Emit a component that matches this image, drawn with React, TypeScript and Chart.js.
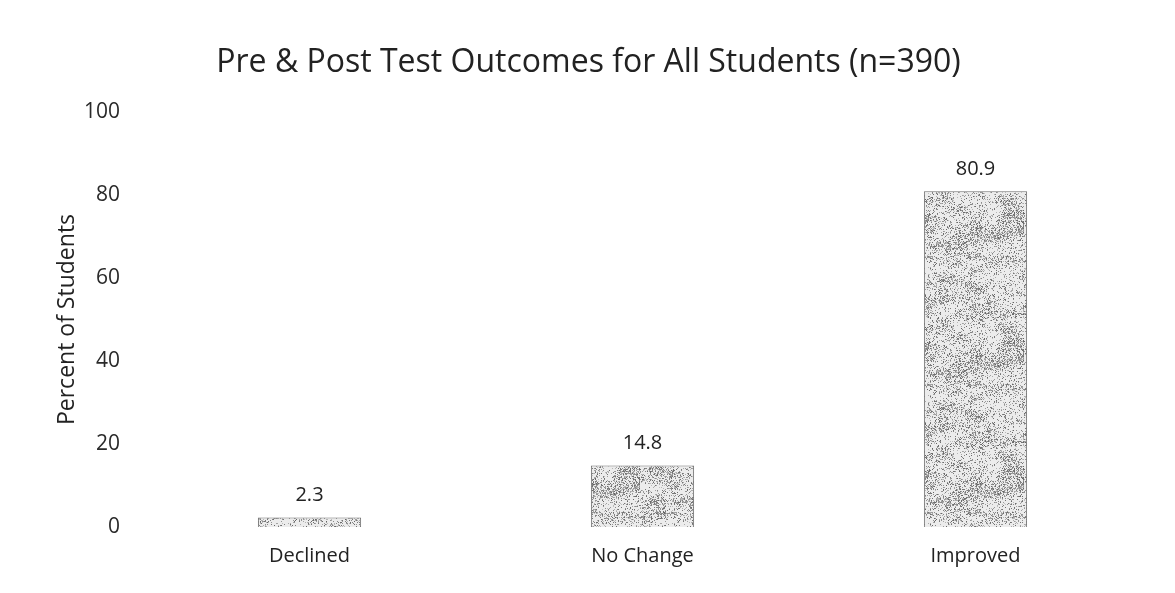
import React, { useEffect, useRef } from "react";
import { Chart, registerables } from "chart.js";

Chart.register(...registerables);

const categories = ["Declined", "No Change", "Improved"];
const percentValues = [2.3, 14.8, 80.9];
const yTicks = [0, 20, 40, 60, 80, 100];
const titleText = "Pre & Post Test Outcomes for All Students (n=390)";
const yAxisTitle = "Percent of Students";

const FONT = "'Open Sans', 'Noto Sans', sans-serif";

function hash(x: number, y: number): number {
  let h = (x * 374761393 + y * 668265263) | 0;
  h = Math.imul(h ^ (h >>> 13), 1274126177);
  h = h ^ (h >>> 16);
  return (h >>> 0) / 4294967295;
}

function smoothNoise(x: number, y: number, cell: number): number {
  const gx = Math.floor(x / cell);
  const gy = Math.floor(y / cell);
  const fx = x / cell - gx;
  const fy = y / cell - gy;
  const sx = fx * fx * (3 - 2 * fx);
  const sy = fy * fy * (3 - 2 * fy);
  const a = hash(gx + 1000, gy + 2000);
  const b = hash(gx + 1001, gy + 2000);
  const c = hash(gx + 1000, gy + 2001);
  const d = hash(gx + 1001, gy + 2001);
  return a + (b - a) * sx + (c - a) * sy + (a - b - c + d) * sx * sy;
}

function makeSpecklePattern(): CanvasPattern | string {
  const W = 128;
  const H = 128;
  const c = document.createElement("canvas");
  c.width = W;
  c.height = H;
  const ctx = c.getContext("2d");
  if (!ctx) return "#d0d0d0";
  ctx.fillStyle = "#ececec";
  ctx.fillRect(0, 0, W, H);
  for (let y = 0; y < H; y++) {
    for (let x = 0; x < W; x++) {
      const n = smoothNoise(x, y * 2.2, 16);
      const v = hash(x, y);
      if (v < 0.14 + n * n * 0.55) {
        const g = 100 + Math.floor(hash(y + 7, x + 13) * 95);
        ctx.fillStyle = `rgb(${g},${g},${g})`;
        ctx.fillRect(x, y, 1, 1);
      }
    }
  }
  const p = ctx.createPattern(c, "repeat");
  return p || "#d0d0d0";
}

const titlePlugin = {
  id: "centeredTitle",
  afterDraw(chart: any) {
    const { ctx } = chart;
    ctx.save();
    ctx.fillStyle = "#222222";
    ctx.font = `32px ${FONT}`;
    ctx.textAlign = "center";
    ctx.textBaseline = "middle";
    ctx.fillText(titleText, chart.width / 2 + 1, 63);
    ctx.restore();
  },
};

const valueLabelPlugin = {
  id: "valueLabels",
  afterDatasetsDraw(chart: any) {
    const { ctx } = chart;
    const meta = chart.getDatasetMeta(0);
    ctx.save();
    ctx.fillStyle = "#222222";
    ctx.font = `20px ${FONT}`;
    ctx.textAlign = "center";
    ctx.textBaseline = "bottom";
    meta.data.forEach((bar: any, i: number) => {
      const v = chart.data.datasets[0].data[i];
      ctx.fillText(Number(v).toFixed(1), bar.x, bar.y - 12);
    });
    ctx.restore();
  },
};

export default function App() {
  const canvasRef = useRef<HTMLCanvasElement | null>(null);

  useEffect(() => {
    if (!canvasRef.current) return;
    const pattern = makeSpecklePattern();
    const chart = new Chart(canvasRef.current, {
      type: "bar",
      data: {
        labels: categories,
        datasets: [
          {
            data: percentValues,
            backgroundColor: pattern as any,
            borderColor: "#6e6e6e",
            borderWidth: 1,
            barPercentage: 0.62,
            categoryPercentage: 0.5,
          },
        ],
      },
      options: {
        animation: false,
        responsive: false,
        maintainAspectRatio: false,
        layout: { padding: { top: 112, left: 54, right: 33, bottom: 16 } },
        plugins: {
          legend: { display: false },
          tooltip: { enabled: false },
          title: { display: false },
        },
        scales: {
          x: {
            grid: { display: false },
            border: { display: false },
            ticks: {
              color: "#222222",
              font: { family: FONT, size: 20 },
              padding: 9,
            },
          },
          y: {
            min: 0,
            max: 100,
            afterBuildTicks(scale: any) {
              scale.ticks = yTicks.map((v) => ({ value: v }));
            },
            afterFit(scale: any) {
              scale.width = 89;
            },
            grid: { display: false },
            border: { display: false },
            ticks: {
              color: "#2a2a2a",
              font: { family: FONT, size: 21 },
              padding: 15,
            },
            title: {
              display: true,
              text: yAxisTitle,
              color: "#222222",
              font: { family: FONT, size: 23 },
              padding: 0,
            },
          },
        },
      },
      plugins: [valueLabelPlugin, titlePlugin],
    });
    return () => chart.destroy();
  }, []);

  return (
    <div
      style={{
        position: "fixed",
        left: 0,
        top: 0,
        width: 1175,
        height: 593,
        background: "#ffffff",
      }}
    >
      <canvas ref={canvasRef} width={1175} height={593} style={{ display: "block" }} />
    </div>
  );
}
